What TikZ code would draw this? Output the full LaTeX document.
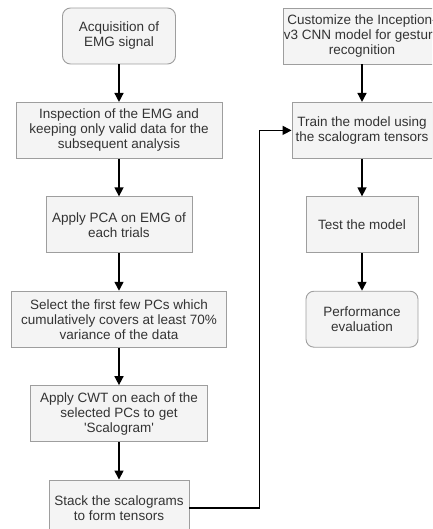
\documentclass[tikz,border=0pt]{standalone}
\usepackage{fontspec}
\setmainfont{Liberation Sans}
\usepackage{xcolor}
\usetikzlibrary{arrows.meta,positioning}
\definecolor{boxfill}{HTML}{F4F4F4}
\definecolor{boxline}{HTML}{9E9E9E}
\definecolor{boxtext}{HTML}{333333}
\begin{document}
\begin{tikzpicture}[
x=1pt, y=-1pt,
node distance=37.5pt,
box/.style={draw=boxline, fill=boxfill, text=boxtext, line width=0.9pt, align=center, minimum height=56pt, inner sep=1pt, font=\fontsize{13.5}{15}\selectfont},
term/.style={box, rounded corners=8pt},
arr/.style={-{Triangle[length=9pt, width=9pt]}, line width=1.5pt, black}
]
\useasboundingbox (0,0) rectangle (432,529);
\clip (0,0) rectangle (432,529);

% left column
\node[term, minimum width=113pt] (acq) at (119,36) {Acquisition of\\EMG signal};
\node[box, minimum width=206pt, below=of acq] (inspect) {Inspection of the EMG and\\keeping only valid data for the\\subsequent analysis};
\node[box, minimum width=146pt, below=of inspect] (pca) {Apply PCA on EMG of\\each trials};
\node[box, minimum width=215pt, below=of pca] (select) {Select the first few PCs which\\cumulatively covers at least 70\%\\variance of the data};
\node[box, minimum width=177pt, below=of select] (cwt) {Apply CWT on each of the\\selected PCs to get\\\textquotesingle Scalogram\textquotesingle};
\node[box, minimum width=140pt, below=of cwt] (stack) {Stack the scalograms\\to form tensors};

% right column
\node[box, minimum width=158pt] (custom) at (362,36) {Customize the Inception-\\v3 CNN model for gesture\\recognition};
\node[box, minimum width=140pt, below=of custom] (train) {Train the model using\\the scalogram tensors};
\node[box, minimum width=112pt, below=of train] (test) {Test the model};
\node[term, minimum width=112pt, below=of test] (perf) {Performance\\evaluation};

\draw[arr] (acq) -- (inspect);
\draw[arr] (inspect) -- (pca);
\draw[arr] (pca) -- (select);
\draw[arr] (select) -- (cwt);
\draw[arr] (cwt) -- (stack);
\draw[arr] (custom) -- (train);
\draw[arr] (train) -- (test);
\draw[arr] (test) -- (perf);
\draw[arr] (stack.east) -- ++(70,0) |- (train.west);

\end{tikzpicture}
\end{document}
